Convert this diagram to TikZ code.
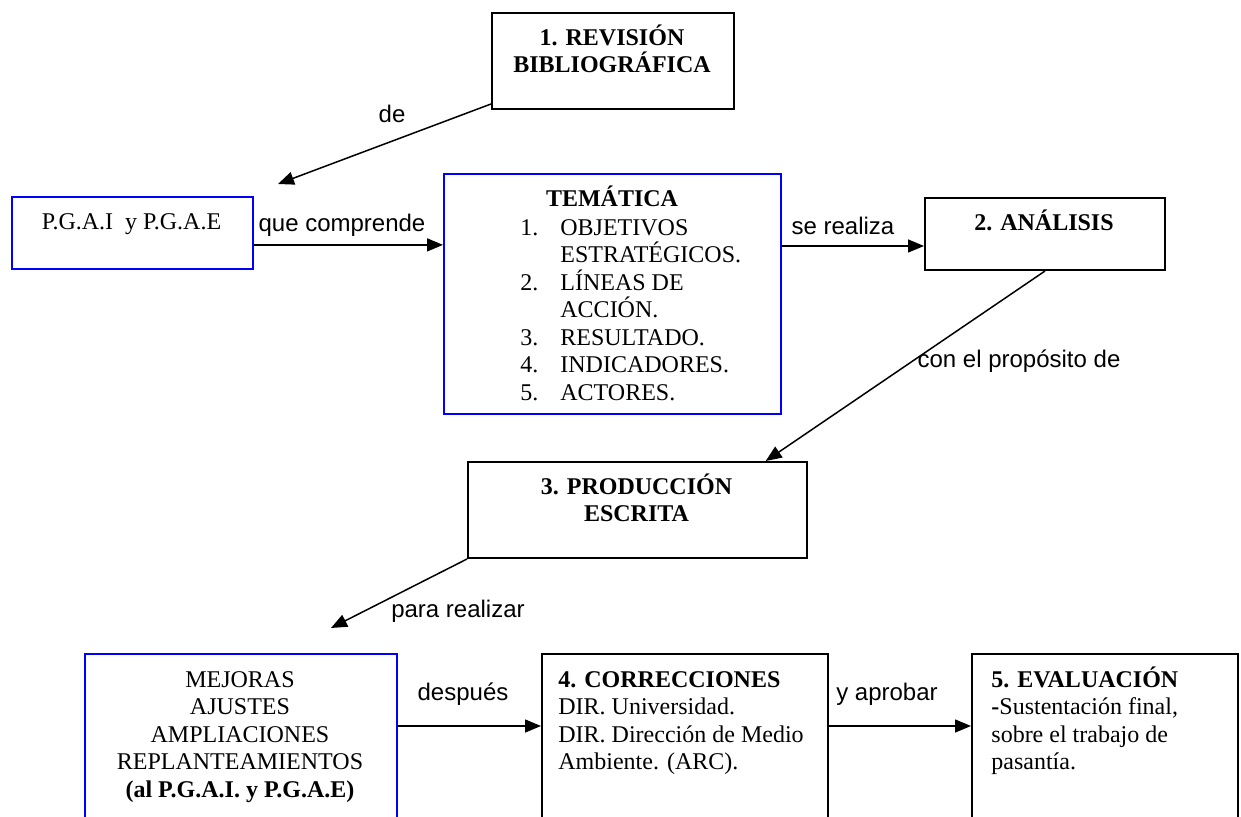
\documentclass[tikz,border=0pt]{standalone}
\usepackage{fontspec}
\setmainfont{Liberation Serif}
\newfontfamily\arialfont{Liberation Sans}
\usetikzlibrary{arrows.meta,calc}

\newcommand{\primera}{\rule{0pt}{11.5pt}}
\newcommand{\itm}[1]{\makebox[20pt][l]{#1}}

\tikzset{
  caja/.style={draw=black, line width=1pt, inner sep=0pt, anchor=north west},
  cajaazul/.style={caja, draw=blue, line width=0.9pt},
  texto/.style={font=\fontsize{12pt}{13.75pt}\selectfont, inner sep=0pt},
  etiqueta/.style={font=\arialfont\fontsize{12pt}{13.75pt}\selectfont, inner sep=0pt, anchor=base},
  flecha/.style={-{Triangle[length=8pt,width=6.5pt]}, line width=0.75pt}
}

\begin{document}
\begin{tikzpicture}[x=0.5pt,y=0.5pt,yscale=-1,xscale=1]
\useasboundingbox (0,0) rectangle (1241,817);
\clip (0,0) rectangle (1241,817);

%Shape: Rectangle [revision]
\node[caja, minimum width=121pt, minimum height=48pt] (revision) at (491,12) {};
%Shape: Rectangle [pgai]
\node[cajaazul, minimum width=120.5pt, minimum height=36pt] (pgai) at (11,196) {};
%Shape: Rectangle [tematica]
\node[cajaazul, minimum width=168.5pt, minimum height=120pt] (tematica) at (443,173) {};
%Shape: Rectangle [analisis]
\node[caja, minimum width=120pt, minimum height=36pt] (analisis) at (924,197) {};
%Shape: Rectangle [produccion]
\node[caja, minimum width=169.5pt, minimum height=48pt] (produccion) at (467,461) {};
%Shape: Rectangle [mejoras], cut off at the bottom
\node[cajaazul, minimum width=156pt, minimum height=124pt] (mejoras) at (84,653) {};
%Shape: Rectangle [correcciones]
\node[caja, minimum width=143pt, minimum height=124pt] (correcciones) at (541,653) {};
%Shape: Rectangle [evaluacion]
\node[caja, minimum width=133pt, minimum height=124pt] (evaluacion) at (971,653) {};

% Text Node
\node[texto, anchor=north, align=center, font=\bfseries\fontsize{12pt}{13.75pt}\selectfont] (revisiontxt) at (612,22) {\primera 1. REVISIÓN\\BIBLIOGRÁFICA};
% Text Node
\node[texto, anchor=base] (pgaitxt) at (131.5,230) {P.G.A.I\ \ y P.G.A.E};
% Text Node
\node[texto, anchor=base, font=\bfseries\fontsize{12pt}{13.75pt}\selectfont] (tematicatxt) at (612,207) {TEMÁTICA};
% Text Node
\node[texto, anchor=north west, align=left] (temalista) at (520,212) {\primera\itm{1.}OBJETIVOS\\
  \itm{}ESTRATÉGICOS.\\
  \itm{2.}LÍNEAS DE\\
  \itm{}ACCIÓN.\\
  \itm{3.}RESULTADO.\\
  \itm{4.}INDICADORES.\\
  \itm{5.}ACTORES.};
% Text Node
\node[texto, anchor=base, font=\bfseries\fontsize{12pt}{13.75pt}\selectfont] (analisistxt) at (1044,231) {2. ANÁLISIS};
% Text Node
\node[texto, anchor=north, align=center, font=\bfseries\fontsize{12pt}{13.75pt}\selectfont] (producciontxt) at (636.5,471) {\primera 3. PRODUCCIÓN\\ESCRITA};
% Text Node
\node[texto, anchor=north, align=center] (mejorastxt) at (240,664) {\primera MEJORAS\\AJUSTES\\AMPLIACIONES\\REPLANTEAMIENTOS\\\textbf{(al P.G.A.I. y P.G.A.E)}};
% Text Node
\node[texto, anchor=north west, align=left] (correccionestxt) at (558,664) {\primera\textbf{4. CORRECCIONES}\\DIR. Universidad.\\DIR. Dirección de Medio\\Ambiente. (ARC).};
% Text Node
\node[texto, anchor=north west, align=left] (evaluaciontxt) at (991,664) {\primera\textbf{5. EVALUACIÓN}\\\textbf{-}Sustentación final,\\sobre el trabajo de\\pasantía.};

% Text Node
\node[etiqueta] (de) at (392,123) {de};
% Text Node
\node[etiqueta] (quecomprende) at (342,232) {que comprende};
% Text Node
\node[etiqueta] (serealiza) at (843,235) {se realiza};
% Text Node
\node[etiqueta] (proposito) at (1019,368) {con el propósito de};
% Text Node
\node[etiqueta] (pararealizar) at (458,617) {para realizar};
% Text Node
\node[etiqueta] (despues) at (463,700) {después};
% Text Node
\node[etiqueta] (yaprobar) at (887,700) {y aprobar};

%Straight Lines
\coordinate (deend) at (278,184);
\draw[flecha] ([yshift=-3pt]revision.south west) -- (deend);
%Straight Lines
\draw[flecha] ([yshift=6pt]pgai.east) coordinate (p1) -- (p1 -| tematica.west);
%Straight Lines
\draw[flecha] ([yshift=6pt]analisis.west -| tematica.east) -- ([yshift=6pt]analisis.west);
%Straight Lines
\draw[flecha] (analisis.south) -- ($(produccion.north west)!0.876!(produccion.north east)$);
%Straight Lines
\coordinate (realizarend) at (331,628);
\draw[flecha] (produccion.south west) -- (realizarend);
%Straight Lines
\draw[flecha] ([yshift=36.5pt]mejoras.north east) coordinate (m1) -- (m1 -| correcciones.west);
%Straight Lines
\draw[flecha] ([yshift=36.5pt]correcciones.north east) coordinate (c1) -- (c1 -| evaluacion.west);

\end{tikzpicture}
\end{document}
